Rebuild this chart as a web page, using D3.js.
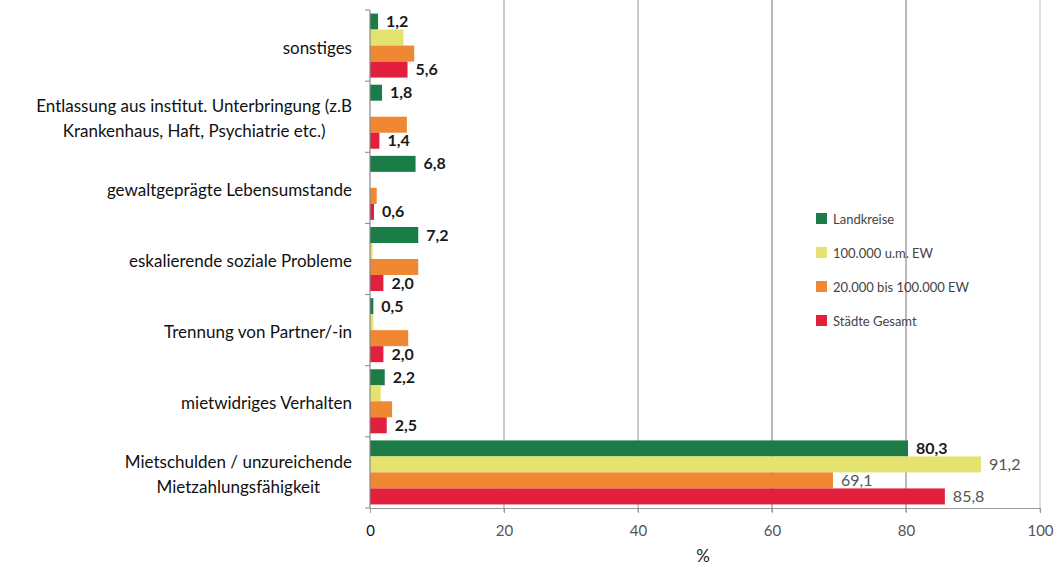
<!DOCTYPE html>
<html lang="de">
<head>
<meta charset="UTF-8">
<title>Gründe Wohnungsverlust</title>
<script src="https://cdnjs.cloudflare.com/ajax/libs/d3/7.8.5/d3.min.js"></script>
<style>
  body { margin: 0; background: #fff; }
  svg { font-family: Lato, "Open Sans", sans-serif; }
</style>
</head>
<body>
<svg id="chart" width="1058" height="569"></svg>
<script>
// categories, top to bottom (label lines)
const categories = [
  ["sonstiges"],
  ["Entlassung aus institut. Unterbringung (z.B", "Krankenhaus, Haft, Psychiatrie etc.)"],
  ["gewaltgeprägte Lebensumstande"],
  ["eskalierende soziale Probleme"],
  ["Trennung von Partner/-in"],
  ["mietwidriges Verhalten"],
  ["Mietschulden / unzureichende", "Mietzahlungsfähigkeit"]
];
const series = ["Landkreise", "100.000 u.m. EW", "20.000 bis 100.000 EW", "Städte Gesamt"];
const colors = ["#1b7c48", "#e4e36f", "#f08732", "#e21f3c"];

// values in %, one array per series (same order as categories)
const landkreise = [1.2, 1.8, 6.8, 7.2, 0.5, 2.2, 80.3];
const grossstadt = [5.0, 0.0, 0.0, 0.4, 0.5, 1.6, 91.2];
const mittelstadt = [6.6, 5.5, 1.0, 7.2, 5.7, 3.3, 69.1];
const staedte = [5.6, 1.4, 0.6, 2.0, 2.0, 2.5, 85.8];
const values = [landkreise, grossstadt, mittelstadt, staedte];

// which series get a value label in each category
const labelled = [[0, 3], [0, 3], [0, 3], [0, 3], [0, 3], [0, 3], [0, 1, 2, 3]];
const xTicks = [0, 20, 40, 60, 80, 100];

const svg = d3.select("#chart");
const plotLeft = 370, plotRight = 1040, plotTop = 10, plotBottom = 508;

const x = d3.scaleLinear().domain([0, 100]).range([plotLeft, plotRight]);
const y = d3.scaleBand().domain(d3.range(categories.length)).range([plotTop, plotBottom])
  .paddingInner(0.1).paddingOuter(0.05);
const y1 = d3.scaleBand().domain(d3.range(series.length)).range([0, y.bandwidth()]);
const fmt = v => d3.format(".1f")(v).replace(".", ",");

// gridlines
svg.append("g").selectAll("line")
  .data(xTicks.slice(1))
  .join("line")
  .attr("x1", d => x(d)).attr("x2", d => x(d))
  .attr("y1", 0).attr("y2", plotBottom + 4)
  .attr("stroke", d => d === 100 ? "#c8c8c8" : d < 60 ? "#a8a8a8" : "#8a8a8a")
  .attr("stroke-width", 1.2);

// bars
const groups = svg.append("g").selectAll("g")
  .data(categories.map((c, i) => i))
  .join("g")
  .attr("transform", i => `translate(0,${y(i)})`);

groups.selectAll("rect")
  .data(i => series.map((s, k) => ({ k, v: values[k][i] })))
  .join("rect")
  .attr("x", x(0))
  .attr("y", d => y1(d.k))
  .attr("width", d => x(d.v) - x(0))
  .attr("height", y1.bandwidth())
  .attr("fill", d => colors[d.k]);

// value labels
groups.selectAll("text")
  .data(i => labelled[i].map(k => ({ k, v: values[k][i], last: i === categories.length - 1 })))
  .join("text")
  .attr("x", d => x(d.v) + 8)
  .attr("y", d => y1(d.k) + y1.bandwidth() / 2)
  .attr("dy", "0.35em")
  .attr("font-size", 16)
  .attr("font-weight", d => (d.last && d.k > 0) ? "normal" : "bold")
  .attr("fill", d => (d.last && d.k > 0) ? "#555" : "#1a1a1a")
  .text(d => fmt(d.v));

// y axis line and ticks
svg.append("line")
  .attr("x1", plotLeft).attr("x2", plotLeft).attr("y1", plotTop).attr("y2", plotBottom)
  .attr("stroke", "#888").attr("stroke-width", 1.2);
svg.append("g").selectAll("line")
  .data(d3.range(categories.length + 1))
  .join("line")
  .attr("x1", plotLeft - 5).attr("x2", plotLeft)
  .attr("y1", i => i < categories.length ? y(i) - y.step() * y.paddingInner() / 2 : plotBottom)
  .attr("y2", i => i < categories.length ? y(i) - y.step() * y.paddingInner() / 2 : plotBottom)
  .attr("stroke", "#888");

// category labels
svg.append("g").selectAll("text")
  .data(categories.map((lines, i) => ({ lines, i })))
  .join("text")
  .attr("text-anchor", "middle")
  .attr("font-size", 17)
  .attr("fill", "#111")
  .each(function (d) {
    const cy = y(d.i) + y.bandwidth() / 2 + 2;
    const t = d3.select(this);
    const widths = [];
    d.lines.forEach((line, j) => {
      t.append("tspan")
        .attr("y", cy + (j - (d.lines.length - 1) / 2) * 25)
        .attr("dy", "0.35em")
        .text(line);
    });
    // right-align the block, lines centred on each other
    t.selectAll("tspan").each(function () { widths.push(this.getComputedTextLength()); });
    const w = d3.max(widths);
    t.selectAll("tspan").attr("x", 352 - w / 2);
  });

// x axis
const xAxis = svg.append("g")
  .attr("transform", `translate(0,${plotBottom})`)
  .call(d3.axisBottom(x).tickValues(xTicks).tickSize(5).tickSizeOuter(0));
xAxis.select(".domain").attr("stroke", "#999").attr("stroke-width", 1.2);
xAxis.selectAll(".tick line").attr("stroke", "#999");
xAxis.selectAll(".tick text")
  .attr("font-family", "Lato, 'Open Sans', sans-serif")
  .attr("font-size", 15)
  .attr("dy", "1.3em")
  .attr("fill", d => d === 0 ? "#111" : "#555");

svg.append("text")
  .attr("x", 703).attr("y", 562)
  .attr("text-anchor", "middle")
  .attr("font-size", 17)
  .attr("fill", "#222")
  .text("%");

// legend
const legend = svg.append("g").selectAll("g")
  .data(series.map((s, k) => ({ s, k })))
  .join("g")
  .attr("transform", d => `translate(816,${219 + d.k * 34})`);
legend.append("rect")
  .attr("x", 0).attr("y", -6)
  .attr("width", 11).attr("height", 11)
  .attr("fill", d => colors[d.k]);
legend.append("text")
  .attr("x", 17).attr("dy", "0.35em")
  .attr("font-size", 13)
  .attr("fill", "#444")
  .text(d => d.s);
</script>
</body>
</html>
